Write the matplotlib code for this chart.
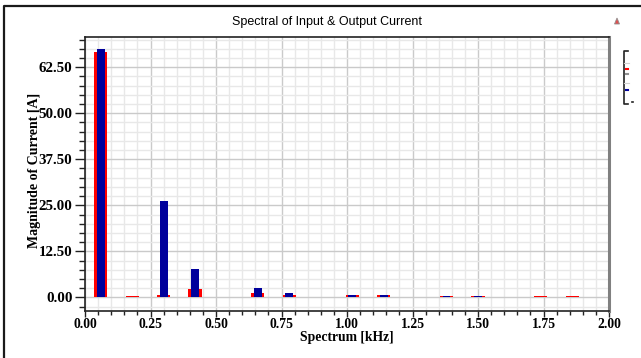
import matplotlib
matplotlib.use("Agg")
import matplotlib.pyplot as plt
from matplotlib.ticker import MultipleLocator, FixedLocator
from matplotlib.lines import Line2D
from matplotlib.patches import Polygon

# Harmonic spectrum of input and output current
freq_khz = [0.06, 0.18, 0.30, 0.42, 0.66, 0.78, 1.02, 1.14, 1.38, 1.50, 1.74, 1.86]
input_current = [66.5, 0.3, 0.6, 2.2, 1.25, 0.6, 0.7, 0.7, 0.4, 0.4, 0.25, 0.25]
output_current = [67.5, 0.0, 26.2, 7.7, 2.6, 1.15, 0.65, 0.65, 0.35, 0.35, 0.2, 0.2]

y_ticks = [0.0, 12.5, 25.0, 37.5, 50.0, 62.5]
x_ticks = [0.0, 0.25, 0.5, 0.75, 1.0, 1.25, 1.5, 1.75, 2.0]

W, H = 641, 358
fig = plt.figure(figsize=(W / 100, H / 100), dpi=100)
fig.patch.set_facecolor("white")

def px(x0, y0, x1, y1):
    return [x0 / W, 1 - y1 / H, (x1 - x0) / W, (y1 - y0) / H]

ax = fig.add_axes(px(85, 37, 609, 311))
ax.set_xlim(0, 2.0)
ax.set_ylim(-3.7, 70.7)

ax.bar(freq_khz, input_current, width=0.05, color="#ff0000", zorder=3, linewidth=0)
ax.bar(freq_khz, output_current, width=0.03, color="#00009c", zorder=4, linewidth=0)

ax.xaxis.set_major_locator(FixedLocator(x_ticks))
ax.xaxis.set_minor_locator(MultipleLocator(0.05))
ax.yaxis.set_major_locator(FixedLocator(y_ticks))
ax.yaxis.set_minor_locator(MultipleLocator(2.5))
ax.set_xticklabels([f"{v:.2f}" for v in x_ticks])
ax.set_yticklabels([f"{v:.2f}" for v in y_ticks])

ax.grid(which="minor", color="#e8e8e8", linewidth=1.0, zorder=0)
ax.grid(which="major", color="#cacaca", linewidth=1.0, zorder=1)
ax.set_axisbelow(True)

for lab in ax.get_xticklabels():
    lab.set_fontfamily("Liberation Serif")
    lab.set_fontweight("bold")
    lab.set_fontsize(9.8)
for lab in ax.get_yticklabels():
    lab.set_fontfamily("Liberation Serif")
    lab.set_fontweight("bold")
    lab.set_fontsize(10.8)

ax.tick_params(axis="y", which="major", direction="out", length=7, width=1,
               color="#222222", pad=2)
ax.tick_params(axis="y", which="minor", direction="out", length=4, width=1,
               color="#222222")
ax.tick_params(axis="x", which="major", direction="out", length=4, width=1,
               color="#222222", pad=1)
ax.tick_params(axis="x", which="minor", direction="out", length=3, width=1,
               color="#222222")

for side in ["left", "bottom", "top"]:
    ax.spines[side].set_color("#222222")
    ax.spines[side].set_linewidth(1.2)
ax.spines["right"].set_color("#808080")
ax.spines["right"].set_linewidth(2.2)

ax.set_xlabel("Spectrum [kHz]", fontfamily="Liberation Serif", fontweight="bold",
              fontsize=9.8)
ax.xaxis.set_label_coords(0.5, -(337 - 311) / 274, transform=ax.transAxes)
ax.xaxis.label.set_va("center")
fig.text(35 / W, 1 - 170 / H, "Magnitude of Current [A]", rotation=90,
         ha="center", va="center", fontfamily="Liberation Serif",
         fontweight="bold", fontsize=10)

fig.text(327 / W, 1 - 22 / H, "Spectral of Input & Output Current",
         ha="center", va="center", fontfamily="Liberation Sans", fontsize=9)

# Frame, legend stub and corner icon drawn in pixel coordinates
ov = fig.add_axes([0, 0, 1, 1], zorder=10)
ov.set_xlim(0, W)
ov.set_ylim(H, 0)
ov.axis("off")
ov.patch.set_alpha(0)
ov.add_line(Line2D([3.5, 3.5, W], [H, 6, 6], color="#1a1a1a", linewidth=1.6))
ov.add_line(Line2D([628, 623.5, 623.5, 628], [51, 51, 104, 104], color="#222222", linewidth=1.2))
ov.add_line(Line2D([623.5, 629], [63, 63], color="#d0d0d0", linewidth=0.8))
ov.add_line(Line2D([623.5, 629], [83, 83], color="#d0d0d0", linewidth=0.8))
ov.add_line(Line2D([626, 628], [69, 69], color="#ff0000", linewidth=1.5))
ov.add_line(Line2D([626, 628], [74, 74], color="#909090", linewidth=1.5))
ov.add_line(Line2D([626, 628], [90, 90], color="#00009c", linewidth=1.5))
ov.add_line(Line2D([631.5, 632.5], [102, 102], color="#222222", linewidth=1.2))
ov.add_patch(Polygon([[614.5, 24], [619.5, 24], [617, 18]], closed=True,
                     facecolor="#e05050", edgecolor="#909090", linewidth=0.6))

fig.savefig("out.png", dpi=100)
